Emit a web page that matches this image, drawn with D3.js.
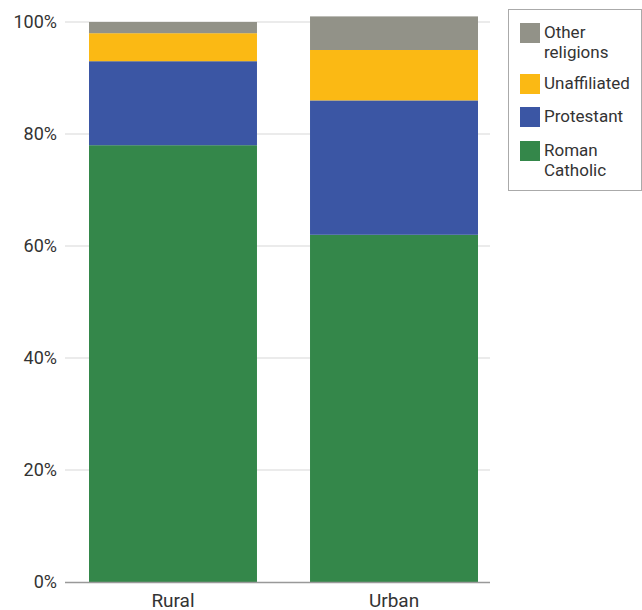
<!DOCTYPE html>
<html>
<head>
<meta charset="utf-8">
<script src="https://cdn.jsdelivr.net/npm/d3@7"></script>
<style>
  html, body { margin: 0; padding: 0; background: #fff; }
  svg { display: block; font-family: Roboto, "Noto Sans", sans-serif; }
</style>
</head>
<body>
<svg id="chart" width="642" height="610"></svg>
<script>
// Religious affiliation by settlement type (percent of population)
const categories = ["Rural", "Urban"];
const seriesNames = ["Roman Catholic", "Protestant", "Unaffiliated", "Other religions"];
const romanCatholic = [78, 62];
const protestant = [15, 24];
const unaffiliated = [5, 9];
const otherReligions = [2, 6];
const yTicks = [0, 20, 40, 60, 80, 100];
const legendLines = [["Other", "religions"], ["Unaffiliated"], ["Protestant"], ["Roman", "Catholic"]];
const legendKeys = ["Other religions", "Unaffiliated", "Protestant", "Roman Catholic"];

const colors = {
  "Roman Catholic": "#34874a",
  "Protestant": "#3b56a4",
  "Unaffiliated": "#fbb914",
  "Other religions": "#929288"
};

const rows = categories.map((c, i) => ({
  category: c,
  "Roman Catholic": romanCatholic[i],
  "Protestant": protestant[i],
  "Unaffiliated": unaffiliated[i],
  "Other religions": otherReligions[i]
}));

const svg = d3.select("#chart");
const plot = { left: 65, right: 490, top: 22, bottom: 582 };

const x = d3.scaleBand()
  .domain(categories)
  .range([89, 478])
  .paddingInner(0.24)
  .paddingOuter(0);

const y = d3.scaleLinear().domain([0, 100]).range([plot.bottom, plot.top]);

// gridlines
svg.append("g")
  .selectAll("line")
  .data(yTicks.filter(t => t > 0))
  .join("line")
  .attr("x1", plot.left).attr("x2", plot.right)
  .attr("y1", d => y(d)).attr("y2", d => y(d))
  .attr("stroke", "#e5e5e5").attr("stroke-width", 1.5);

// y tick labels
svg.append("g")
  .selectAll("text")
  .data(yTicks)
  .join("text")
  .attr("x", 57)
  .attr("y", d => y(d))
  .attr("dy", "0.36em")
  .attr("text-anchor", "end")
  .attr("font-size", 18)
  .attr("fill", "#333")
  .text(d => d + "%");

// stacked bars
const stack = d3.stack().keys(seriesNames);
const layers = stack(rows);

svg.append("g")
  .selectAll("g")
  .data(layers)
  .join("g")
  .attr("fill", d => colors[d.key])
  .selectAll("rect")
  .data(d => d)
  .join("rect")
  .attr("x", d => x(d.data.category))
  .attr("width", x.bandwidth())
  .attr("y", d => y(d[1]))
  .attr("height", d => y(d[0]) - y(d[1]));

// baseline axis
svg.append("line")
  .attr("x1", plot.left).attr("x2", plot.right)
  .attr("y1", plot.bottom + 0.5).attr("y2", plot.bottom + 0.5)
  .attr("stroke", "#999").attr("stroke-width", 1.5);

// category labels
svg.append("g")
  .selectAll("text")
  .data(categories)
  .join("text")
  .attr("x", d => x(d) + x.bandwidth() / 2)
  .attr("y", 607)
  .attr("text-anchor", "middle")
  .attr("font-size", 19)
  .attr("fill", "#333")
  .text(d => d);

// legend
const legend = svg.append("g");
legend.append("rect")
  .attr("x", 508.5).attr("y", 9.5)
  .attr("width", 133).attr("height", 181)
  .attr("fill", "#fff").attr("stroke", "#aaa").attr("stroke-width", 1);

const swatchY = [23, 74, 107, 141];
legendKeys.forEach((k, i) => {
  legend.append("rect")
    .attr("x", 520).attr("y", swatchY[i])
    .attr("width", 20).attr("height", 20)
    .attr("fill", colors[k]);
  const t = legend.append("text")
    .attr("x", 544)
    .attr("y", swatchY[i] + 15)
    .attr("font-size", 17)
    .attr("fill", "#333");
  legendLines[i].forEach((line, j) => {
    t.append("tspan").attr("x", 544).attr("dy", j === 0 ? 0 : 20).text(line);
  });
});
</script>
</body>
</html>
